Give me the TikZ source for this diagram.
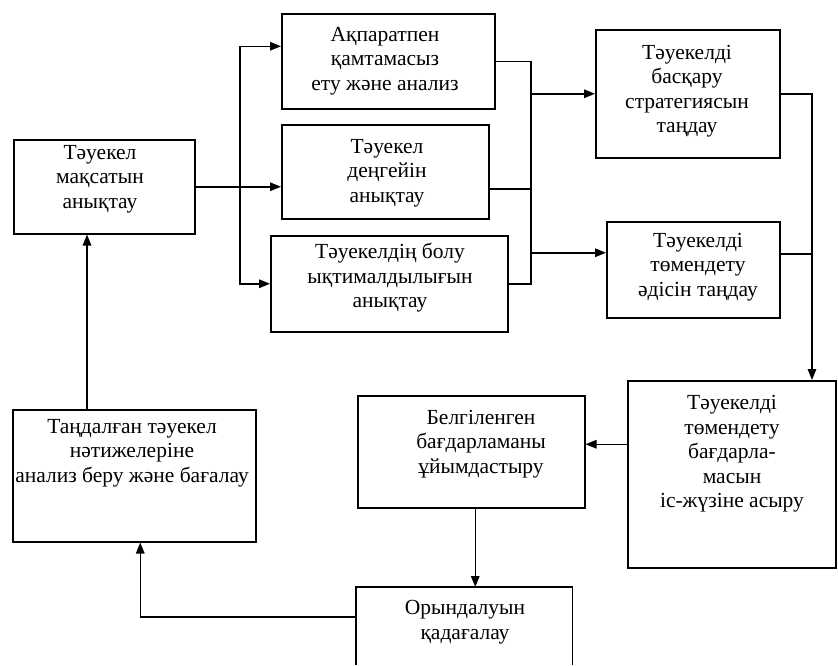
\documentclass[tikz,border=0pt]{standalone}
\usepackage{fontspec}
\setmainfont{Liberation Serif}
\usetikzlibrary{arrows.meta,calc}
\begin{document}
\begin{tikzpicture}[x=1pt,y=-1pt,
  box/.style={draw, line width=1.5pt, inner sep=0pt, anchor=north west},
  txt/.style={align=center, inner sep=0pt, font=\fontsize{21.5}{24.5}\selectfont},
  line/.style={line width=1.5pt},
  arr/.style={line width=1.5pt, -{Triangle[length=11pt,width=8.5pt]}}]
\useasboundingbox (0,0) rectangle (838,665);
% boxes
\node[box, minimum width=181pt, minimum height=94pt] (A) at (13,139) {};
\node[box, minimum width=213pt, minimum height=95pt] (B) at (281,13) {};
\node[box, minimum width=207pt, minimum height=94pt] (C) at (281,124) {};
\node[box, minimum width=237pt, minimum height=96pt] (D) at (270,235) {};
\node[box, minimum width=184pt, minimum height=128pt] (E) at (595,29) {};
\node[box, minimum width=173pt, minimum height=96pt] (F) at (606,221) {};
\node[box, minimum width=208pt, minimum height=187pt] (G) at (627,380) {};
\node[box, minimum width=227pt, minimum height=112pt] (H) at (357,395) {};
\node[box, minimum width=243pt, minimum height=132pt] (I) at (12,409) {};
\node[inner sep=0pt, anchor=north west, minimum width=216pt, minimum height=78pt] (J) at (356,587) {};
\draw[line] (J.south west) -- (J.north west) -- (J.north east) -- (J.south east);
% texts
\node[txt] (tA) at (100,179) {Тәуекел\\мақсатын\\анықтау};
\node[txt] (tB) at (385,61) {Ақпаратпен\\қамтамасыз\\ету және анализ};
\node[txt] (tC) at (387,173) {Тәуекел\\деңгейін\\анықтау};
\node[txt] (tD) at (390,278) {Тәуекелдің болу\\ықтималдылығын\\анықтау};
\node[txt] (tE) at (687,91) {Тәуекелді\\басқару\\стратегиясын\\таңдау};
\node[txt] (tF) at (698,267) {Тәуекелді\\төмендету\\әдісін таңдау};
\node[txt] (tG) at (732,454) {Тәуекелді\\төмендету\\бағдарла-\\масын\\іс-жүзіне асыру};
\node[txt] (tH) at (481,444) {Белгіленген\\бағдарламаны\\ұйымдастыру};
\node[txt] (tI) at (132,453) {Таңдалған тәуекел\\нәтижелеріне\\анализ беру және бағалау};
\node[txt] (tJ) at (465,622) {Орындалуын\\қадағалау};
% helper coordinates
\coordinate (s1) at (240,186);
\coordinate (r1) at (531,61);
\coordinate (r3) at (812,93);
\coordinate (bW) at ($(B.west)+(0,-15)$);
\coordinate (cE) at ($(C.east)+(0,17)$);
\coordinate (fW) at ($(F.west)+(0,-17)$);
\coordinate (fE) at ($(F.east)+(0,-16)$);
\coordinate (gT) at ($(G.north west)+(185,0)$);
\coordinate (gW) at ($(G.west)+(0,-30)$);
\coordinate (hB) at ($(H.south)+(4,0)$);
\coordinate (jW) at ($(J.north west)+(0,30)$);
\coordinate (iS) at ($(I.south)+(6,0)$);
\coordinate (iN) at ($(I.north west)+(75,0)$);
% connectors
\draw[arr] (A.east) -- (A.east -| C.west);
\draw[arr] (s1) |- (bW);
\draw[arr] (s1) |- (D.west);
\draw[line] (B.east) -- (B.east -| r1) -- (D.east -| r1) -- (D.east);
\draw[line] (cE) -- (cE -| r1);
\draw[arr] (E.west -| r1) -- (E.west);
\draw[arr] (fW -| r1) -- (fW);
\draw[arr] (E.east) -| (gT);
\draw[line] (fE) -- (fE -| gT);
\draw[arr] (gW) -- (gW -| H.east);
\draw[arr] (hB) -- (hB |- J.north);
\draw[arr] (jW) -| (iS);
\draw[arr] (iN) -- (iN |- A.south);
\end{tikzpicture}
\end{document}
